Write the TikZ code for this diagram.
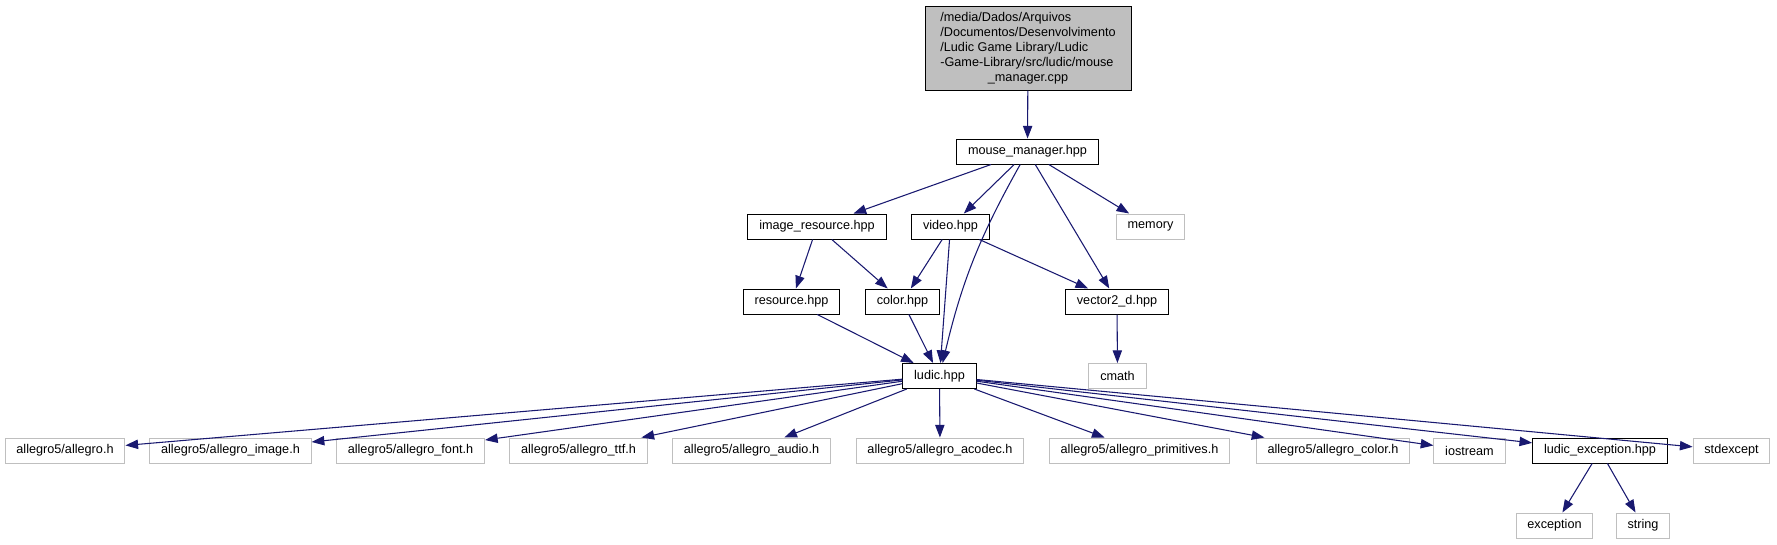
\documentclass[tikz,border=0pt]{standalone}
\usepackage{fontspec}
\setmainfont{Liberation Sans}
\usepackage{tikz}
\usepackage{xcolor}
\usetikzlibrary{arrows.meta}

\definecolor{edgeblue}{RGB}{25,25,112}
\definecolor{extgrey}{RGB}{191,191,191}

\tikzset{
  filebox/.style={draw=black, line width=0.75pt, fill=white, minimum height=18.75pt,
    inner xsep=8.5pt, inner ysep=0pt, font=\fontsize{9.5}{11.25}\selectfont},
  extbox/.style={filebox, draw=extgrey},
  srcbox/.style={filebox, fill=extgrey, minimum width=154.5pt, minimum height=63pt},
  dep/.style={draw=edgeblue, line width=0.8pt, -{Triangle[length=9.5pt,width=7pt]}}
}

\begin{document}
\begin{tikzpicture}[x=0.75pt,y=0.75pt,yscale=-1,xscale=1]
\useasboundingbox (0,0) rectangle (1777,544);

%Box: source file
\node[srcbox] (src) at (1028,48) {\begin{tabular}{@{}l@{}}/media/Dados/Arquivos\\/Documentos/Desenvolvimento\\/Ludic Game Library/Ludic\\-Game-Library/src/ludic/mouse\\\multicolumn{1}{@{}c@{}}{\_manager.cpp}\end{tabular}};
%Box: headers, upper part
\node[filebox] (mm) at (1027.5,151.5) {mouse\_manager.hpp};
\node[filebox] (imgres) at (817,226.5) {image\_resource.hpp};
\node[filebox] (video) at (950.5,226.5) {video.hpp};
\node[extbox] (memory) at (1150.5,226.5) {memory};
\node[filebox] (resource) at (791.5,301.5) {resource.hpp};
\node[filebox] (color) at (902.5,301.5) {color.hpp};
\node[filebox] (vec2d) at (1117,301.5) {vector2\_d.hpp};
\node[filebox] (ludic) at (939.5,376) {ludic.hpp};
\node[extbox] (cmath) at (1117.5,376) {cmath};
%Box: bottom row
\node[extbox] (allegro) at (65,450.5) {allegro5/allegro.h};
\node[extbox] (aimage) at (230.5,450.5) {allegro5/allegro\_image.h};
\node[extbox] (afont) at (410.5,450.5) {allegro5/allegro\_font.h};
\node[extbox] (attf) at (578.5,450.5) {allegro5/allegro\_ttf.h};
\node[extbox] (aaudio) at (751.5,450.5) {allegro5/allegro\_audio.h};
\node[extbox] (aacodec) at (940,450.5) {allegro5/allegro\_acodec.h};
\node[extbox] (aprim) at (1139.5,450.5) {allegro5/allegro\_primitives.h};
\node[extbox] (acolor) at (1333,450.5) {allegro5/allegro\_color.h};
\node[extbox] (iostream) at (1469.5,450.5) {iostream};
\node[filebox] (ludicexc) at (1600,450.5) {ludic\_exception.hpp};
\node[extbox] (stdexcept) at (1731.5,450.5) {stdexcept};
\node[extbox] (exception) at (1554.5,525.5) {exception};
\node[extbox] (string) at (1643,525.5) {string};

%Arrows: upper part
\draw[dep] (src) -- (mm);
\draw[dep] (mm) -- (imgres);
\draw[dep] (mm) -- (video);
\draw[dep] (mm) to[bend left=8] (ludic);
\draw[dep] (mm) -- (vec2d);
\draw[dep] (mm) -- (memory);
\draw[dep] (imgres) -- (resource);
\draw[dep] (imgres) -- (color);
\draw[dep] (video) -- (color);
\draw[dep] (video) -- (ludic);
\draw[dep] (video) -- (vec2d);
\draw[dep] (resource) -- (ludic);
\draw[dep] (color) -- (ludic);
\draw[dep] (vec2d) -- (cmath);
%Arrows: from ludic.hpp
\draw[dep] (ludic) -- (allegro);
\draw[dep] (ludic) -- (aimage);
\draw[dep] (ludic) -- (afont);
\draw[dep] (ludic) -- (attf);
\draw[dep] (ludic) -- (aaudio);
\draw[dep] (ludic) -- (aacodec);
\draw[dep] (ludic) -- (aprim);
\draw[dep] (ludic) -- (acolor);
\draw[dep] (ludic) -- (iostream);
\draw[dep] (ludic) -- (ludicexc);
\draw[dep] (ludic) -- (stdexcept);
%Arrows: from ludic_exception.hpp
\draw[dep] (ludicexc) -- (exception);
\draw[dep] (ludicexc) -- (string);

\end{tikzpicture}
\end{document}
